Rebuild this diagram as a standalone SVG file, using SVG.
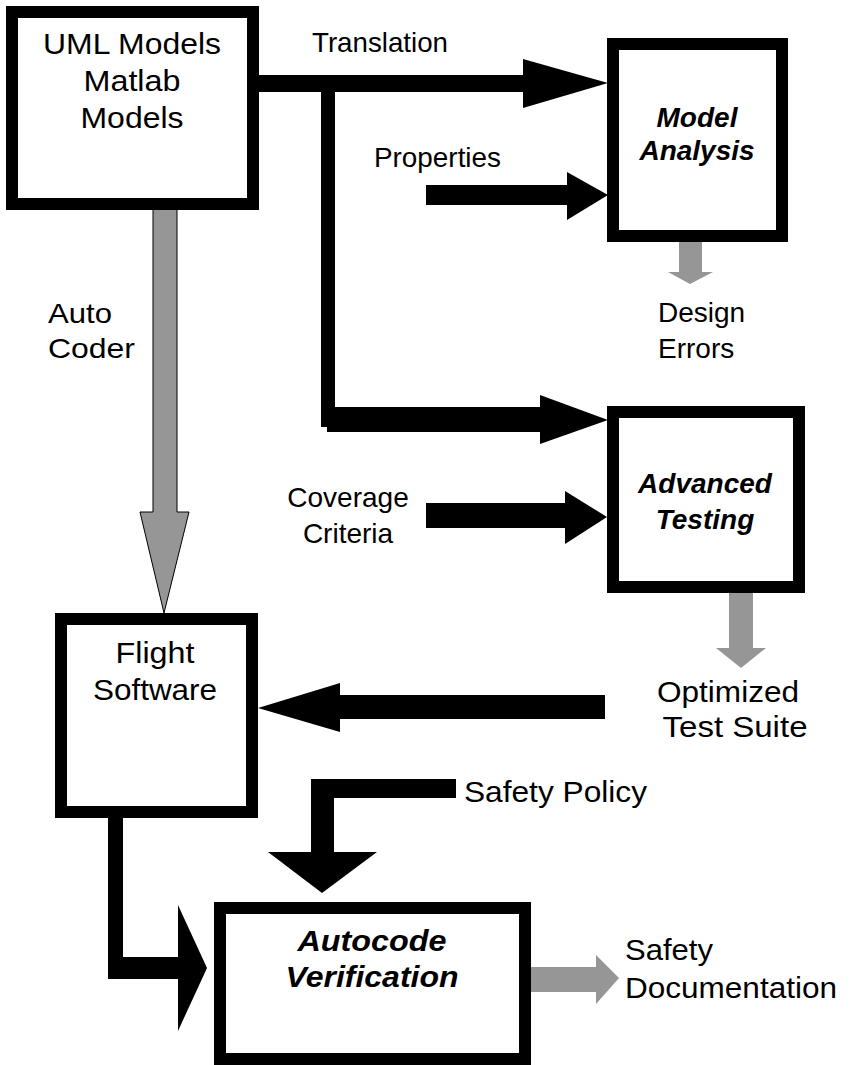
<svg xmlns="http://www.w3.org/2000/svg" width="867" height="1065" viewBox="0 0 867 1065">
<style>
.box{fill:#fff;stroke:#000;stroke-width:12}
.blk{fill:#000;stroke:none}
.gry{fill:#969696;stroke:none}
.t{font-family:"Liberation Sans",Arial,sans-serif;font-size:28px;fill:#000}
.tb{font-family:"Liberation Sans",Arial,sans-serif;font-size:28px;font-weight:bold;font-style:italic;fill:#000}
.lg{font-size:30px}
.m{text-anchor:middle}
</style>
<rect width="867" height="1065" fill="#fff"/>
<g id="connectors">
  <!-- Translation -->
  <rect class="blk" x="259" y="75" width="265" height="17"/>
  <polygon class="blk" points="523,59 608,83 523,108"/>
  <rect class="blk" x="321" y="88" width="14" height="339"/>
  <rect class="blk" x="327" y="407" width="214" height="25"/>
  <polygon class="blk" points="540,395 608,420 540,444"/>
  <!-- Properties -->
  <rect class="blk" x="426" y="185" width="142" height="20"/>
  <polygon class="blk" points="567,172 608,195 567,220"/>
  <!-- Coverage -->
  <rect class="blk" x="426" y="503" width="140" height="25"/>
  <polygon class="blk" points="565,491 607,517 565,544"/>
  <!-- Optimized -> Flight -->
  <rect class="blk" x="339" y="695" width="266" height="24"/>
  <polygon class="blk" points="340,683 258,708 340,732"/>
  <!-- Safety Policy -->
  <rect class="blk" x="311" y="779" width="145" height="19"/>
  <rect class="blk" x="311" y="779" width="23" height="74"/>
  <polygon class="blk" points="268,852 377,852 322,893"/>
  <!-- Flight -> Autocode -->
  <rect class="blk" x="108" y="812" width="15" height="167"/>
  <rect class="blk" x="108" y="957" width="71" height="22"/>
  <polygon class="blk" points="178,905 207,968 178,1031"/>
  <!-- Auto coder (gray) -->
  <polygon fill="#969696" stroke="#000" stroke-width="1" points="153,209 177,209 177,512 189,512 164,613 140,512 153,512"/>
  <!-- Design errors -->
  <polygon class="gry" points="679,242 702,242 702,272 713,272 690,284 668,272 679,272"/>
  <!-- Optimized test suite -->
  <polygon class="gry" points="729,593 753,593 753,648 766,648 741,668 716,648 729,648"/>
  <!-- Safety documentation -->
  <polygon class="gry" points="525,967 596,967 596,955 619,978 596,1004 596,992 525,992"/>
</g>
<g id="uml">
  <rect class="box" x="12" y="12" width="241" height="192"/>
  <text class="t lg m" x="132" y="54" textLength="178" lengthAdjust="spacingAndGlyphs">UML Models</text>
  <text class="t lg m" x="132" y="91" textLength="97" lengthAdjust="spacingAndGlyphs">Matlab</text>
  <text class="t lg m" x="132" y="128" textLength="103" lengthAdjust="spacingAndGlyphs">Models</text>
</g>
<g id="model-analysis">
  <rect class="box" x="613" y="44" width="169" height="192"/>
  <text class="tb m" x="697" y="127">Model</text>
  <text class="tb m" x="697" y="160">Analysis</text>
</g>
<g id="advanced-testing">
  <rect class="box" x="613" y="412" width="186" height="175"/>
  <text class="tb m" x="705" y="493">Advanced</text>
  <text class="tb m" x="705" y="529">Testing</text>
</g>
<g id="flight-software">
  <rect class="box" x="61" y="619" width="191" height="193"/>
  <text class="t lg m" x="155" y="663" textLength="79" lengthAdjust="spacingAndGlyphs">Flight</text>
  <text class="t lg m" x="155" y="700" textLength="124" lengthAdjust="spacingAndGlyphs">Software</text>
</g>
<g id="autocode-verification">
  <rect class="box" x="220" y="908" width="305" height="151"/>
  <text class="tb lg m" x="372" y="951" textLength="149" lengthAdjust="spacingAndGlyphs">Autocode</text>
  <text class="tb lg m" x="372" y="987" textLength="173" lengthAdjust="spacingAndGlyphs">Verification</text>
</g>
<g id="labels">
  <text class="t" x="312" y="52" textLength="136" lengthAdjust="spacingAndGlyphs">Translation</text>
  <text class="t" x="374" y="167" textLength="127" lengthAdjust="spacingAndGlyphs">Properties</text>
  <text class="t" x="48" y="323" textLength="64" lengthAdjust="spacingAndGlyphs">Auto</text>
  <text class="t" x="48" y="358" textLength="87" lengthAdjust="spacingAndGlyphs">Coder</text>
  <text class="t" x="658" y="322">Design</text>
  <text class="t" x="658" y="358">Errors</text>
  <text class="t m" x="348" y="507">Coverage</text>
  <text class="t m" x="348" y="543">Criteria</text>
  <text class="t lg m" x="728" y="702" textLength="142" lengthAdjust="spacingAndGlyphs">Optimized</text>
  <text class="t lg m" x="735" y="737" textLength="145" lengthAdjust="spacingAndGlyphs">Test Suite</text>
  <text class="t lg" x="464" y="802" textLength="183" lengthAdjust="spacingAndGlyphs">Safety Policy</text>
  <text class="t lg" x="625" y="960" textLength="88" lengthAdjust="spacingAndGlyphs">Safety</text>
  <text class="t lg" x="625" y="998" textLength="212" lengthAdjust="spacingAndGlyphs">Documentation</text>
</g>
</svg>
